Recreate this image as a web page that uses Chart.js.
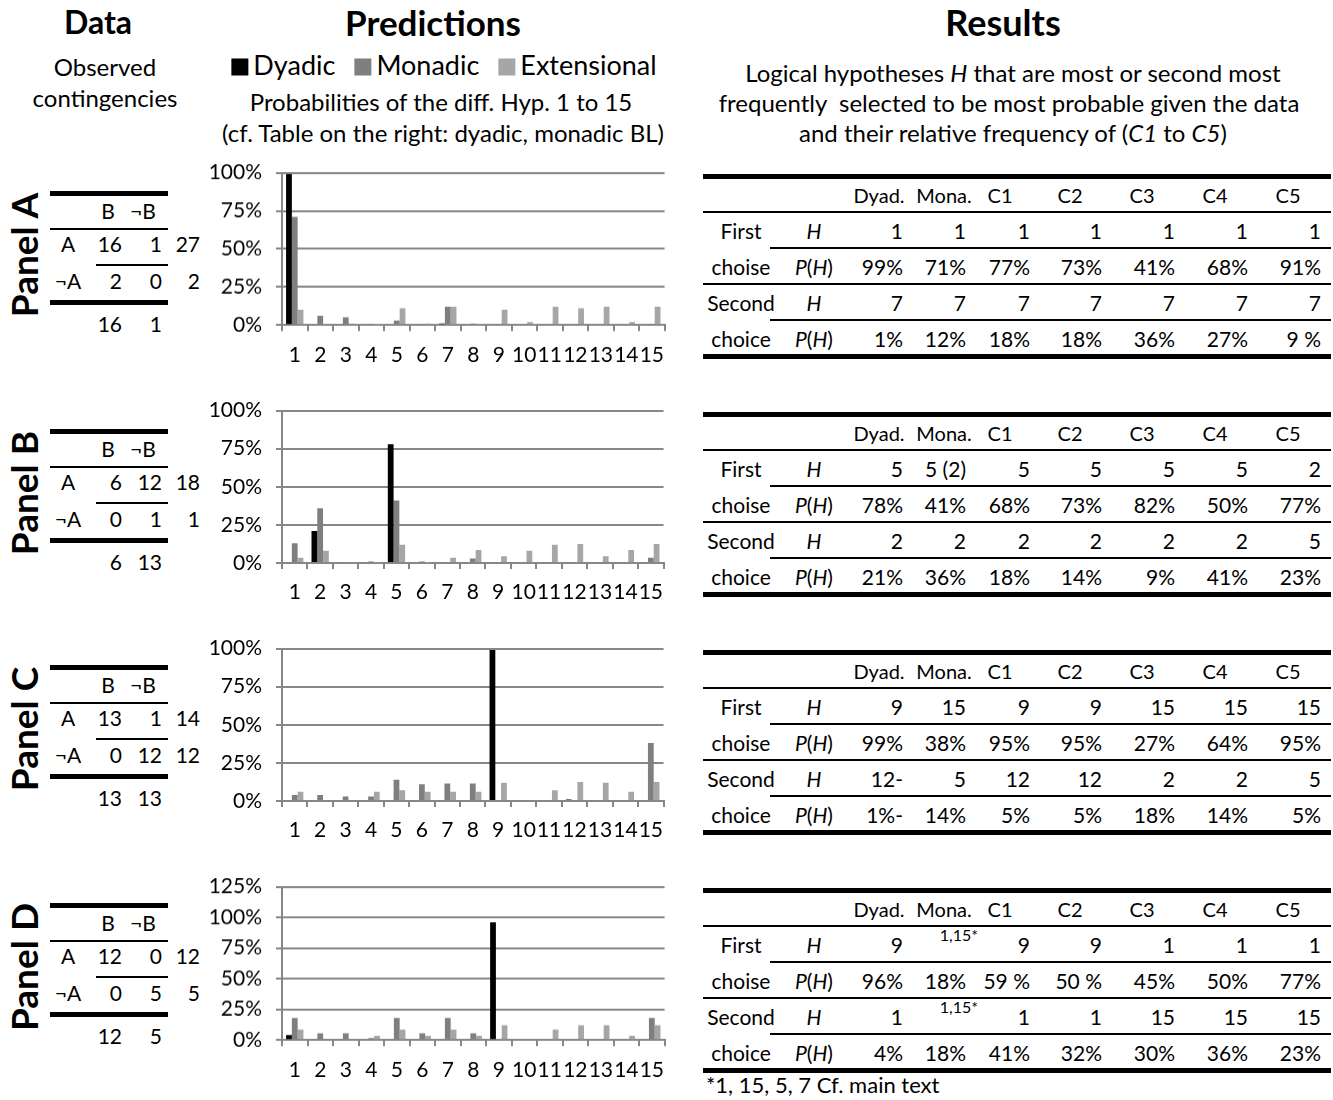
<!DOCTYPE html>
<html>
<head>
<meta charset="utf-8">
<script src="https://cdn.jsdelivr.net/npm/chart.js@4.4.1/dist/chart.umd.min.js"></script>
<style>
  html, body { margin: 0; padding: 0; background: #fff; }
  body { width: 1333px; height: 1100px; position: relative; overflow: hidden;
         font-family: Lato, "Noto Sans", sans-serif; color: #000; }
  .t { position: absolute; white-space: nowrap; line-height: 1; }
  .rule { position: absolute; background: #000; }
  canvas { position: absolute; }
  .legend { position: absolute; display: flex; align-items: center; gap: 19px;
            transform: translate(-50%, -50%); font-size: 27px; white-space: nowrap; line-height: 1; }
  .legend span.sw { display: inline-block; width: 17px; height: 17px; margin-right: 5px; vertical-align: -1px; }
</style>
</head>
<body>
<script>
// ---- Hypotheses (x categories) and series ----
const hypotheses = ['1','2','3','4','5','6','7','8','9','10','11','12','13','14','15'];
const seriesNames = ['Dyadic', 'Monadic', 'Extensional'];
const seriesColors = ['#000000', '#7f7f7f', '#a6a6a6'];
const yTickLabels = ['0%', '25%', '50%', '75%', '100%', '125%'];

// Predicted probabilities (%) of hypotheses 1..15
const dyadicA      = [99, 0, 0, 0, 0, 0, 1, 0, 0, 0, 0, 0, 0, 0, 0];
const monadicA     = [71, 6, 5, 0.3, 3, 0.3, 12, 1, 0, 0, 0, 0, 0, 0, 0.5];
const extensionalA = [10, 0.5, 1, 0.3, 11, 1, 12, 0.5, 10, 2, 12, 11, 12, 2, 12];

const dyadicB      = [0, 21, 0, 0, 78, 0, 0, 0, 0, 0, 0, 0, 0, 0, 0];
const monadicB     = [13, 36, 0, 1, 41, 1, 0.5, 3, 0, 0, 0, 0, 0, 0, 3.5];
const extensionalB = [3.5, 8, 0.5, 0.3, 12, 0.3, 3.5, 8.5, 4.5, 8, 12, 12.5, 4.5, 8.5, 12.5];

const dyadicC      = [0, 0, 0, 0, 0, 0, 0, 0, 99, 0, 0, 1, 0, 0, 0];
const monadicC     = [4, 4, 3, 3, 14, 11, 11.5, 11.5, 0, 0, 0, 0, 0, 0, 38];
const extensionalC = [6, 0, 0, 6, 7, 6, 6, 6, 12, 0, 7, 12.5, 12, 6, 12.5];

const dyadicD      = [4, 0, 0, 0, 0, 0, 0, 0, 96, 0, 0, 0, 0, 0, 0];
const monadicD     = [18, 5.5, 5.5, 1.5, 18, 5.5, 18, 5.5, 0, 0, 0, 0, 0, 0, 18];
const extensionalD = [8.5, 0, 0, 3.5, 8.5, 3.5, 8.5, 3.5, 12, 0, 8.5, 12, 12, 3.5, 12];

// Observed contingencies: [row A], [row notA], [column totals]
const contA = [['16', '1', '27'], ['2', '0', '2'], ['16', '1']];
const contB = [['6', '12', '18'], ['0', '1', '1'], ['6', '13']];
const contC = [['13', '1', '14'], ['0', '12', '12'], ['13', '13']];
const contD = [['12', '0', '12'], ['0', '5', '5'], ['12', '5']];

// Results: most / second most frequently selected hypotheses
const resultColumns = ['Dyad.', 'Mona.', 'C1', 'C2', 'C3', 'C4', 'C5'];
const firstHA  = ['1', '1', '1', '1', '1', '1', '1'];
const firstPA  = ['99%', '71%', '77%', '73%', '41%', '68%', '91%'];
const secondHA = ['7', '7', '7', '7', '7', '7', '7'];
const secondPA = ['1%', '12%', '18%', '18%', '36%', '27%', '9 %'];

const firstHB  = ['5', '5 (2)', '5', '5', '5', '5', '2'];
const firstPB  = ['78%', '41%', '68%', '73%', '82%', '50%', '77%'];
const secondHB = ['2', '2', '2', '2', '2', '2', '5'];
const secondPB = ['21%', '36%', '18%', '14%', '9%', '41%', '23%'];

const firstHC  = ['9', '15', '9', '9', '15', '15', '15'];
const firstPC  = ['99%', '38%', '95%', '95%', '27%', '64%', '95%'];
const secondHC = ['12-', '5', '12', '12', '2', '2', '5'];
const secondPC = ['1%-', '14%', '5%', '5%', '18%', '14%', '5%'];

const firstHD  = ['9', '1,15*', '9', '9', '1', '1', '1'];
const firstPD  = ['96%', '18%', '59 %', '50 %', '45%', '50%', '77%'];
const secondHD = ['1', '1,15*', '1', '1', '15', '15', '15'];
const secondPD = ['4%', '18%', '41%', '32%', '30%', '36%', '23%'];

// ---- helpers ----
function text(html, x, y, size, align, opts = {}) {
  const d = document.createElement('div');
  d.className = 't';
  d.innerHTML = html;
  d.style.left = x + 'px';
  d.style.top = y + 'px';
  d.style.fontSize = size + 'px';
  const tx = align === 'center' ? '-50%' : align === 'right' ? '-100%' : '0';
  d.style.transform = `translate(${tx},-50%)` + (opts.rotate ? ` rotate(${opts.rotate}deg)` : '');
  if (opts.bold) d.style.fontWeight = '700';
  document.body.appendChild(d);
  return d;
}
function rule(x1, x2, y, h) {
  const d = document.createElement('div');
  d.className = 'rule';
  d.style.left = x1 + 'px';
  d.style.width = (x2 - x1) + 'px';
  d.style.top = (y - h / 2) + 'px';
  d.style.height = h + 'px';
  document.body.appendChild(d);
}

// ---- column headings ----
text('Data', 98, 22, 32, 'center', { bold: true });
text('Predictions', 433, 22, 35, 'center', { bold: true });
text('Results', 1003, 22, 36, 'center', { bold: true });
text('Observed', 105, 67, 24, 'center');
text('contingencies', 105, 98, 24, 'center');

const legend = document.createElement('div');
legend.className = 'legend';
legend.style.left = '444px';
legend.style.top = '64px';
legend.innerHTML = seriesNames.map((n, i) =>
  `<div><span class="sw" style="background:${seriesColors[i]}"></span>${n}</div>`).join('');
document.body.appendChild(legend);

text('Probabilities of the diff. Hyp. 1 to 15', 441, 102, 24, 'center');
text('(cf. Table on the right: dyadic, monadic BL)', 443, 133, 24, 'center');

text('Logical hypotheses <i>H</i> that are most or second most', 1013, 73, 24, 'center');
text('frequently&nbsp; selected to be most probable given the data', 1009, 103, 24, 'center');
text('and their relative frequency of (<i>C1</i> to <i>C5</i>)', 1013, 133, 24, 'center');

// ---- contingency tables ----
function contingency(label, cont, T) {
  text(label, 23, T + 62, 37, 'center', { bold: true, rotate: -90 });
  rule(50, 168, T, 5);
  text('B', 108, T + 17, 21, 'center');
  text('\u00acB', 143, T + 17, 21, 'center');
  rule(50, 168, T + 36, 2);
  text('A', 68, T + 50, 21, 'center');
  text(cont[0][0], 122, T + 50, 21, 'right');
  text(cont[0][1], 162, T + 50, 21, 'right');
  text(cont[0][2], 200, T + 50, 21, 'right');
  rule(96, 168, T + 72, 2);
  text('\u00acA', 68, T + 87, 21, 'center');
  text(cont[1][0], 122, T + 87, 21, 'right');
  text(cont[1][1], 162, T + 87, 21, 'right');
  text(cont[1][2], 200, T + 87, 21, 'right');
  rule(50, 168, T + 109, 5);
  text(cont[2][0], 122, T + 130, 21, 'right');
  text(cont[2][1], 162, T + 130, 21, 'right');
}

// ---- results tables ----
const headerCenters = [879, 944, 1000, 1070, 1142, 1215, 1288];
const valueRights = [903, 966, 1030, 1102, 1175, 1248, 1321];
function cell(v, i, y) {
  if (v.endsWith('*')) {
    // superscripted entry pointing to the footnote
    text(v, valueRights[i] + 12, y - 9, 16, 'right');
  } else {
    text(v, valueRights[i], y, 21, 'right');
  }
}
function results(T, fH, fP, sH, sP) {
  rule(703, 1331, T, 5);
  resultColumns.forEach((c, i) => text(c, headerCenters[i], T + 19, 20, 'center'));
  rule(703, 1331, T + 36, 2);
  text('First', 741, T + 54, 21, 'center');
  text('<i>H</i>', 814, T + 54, 21, 'center');
  fH.forEach((v, i) => cell(v, i, T + 54));
  rule(770, 1331, T + 72, 2);
  text('choise', 741, T + 90, 21, 'center');
  text('<i>P</i>(<i>H</i>)', 814, T + 90, 21, 'center');
  fP.forEach((v, i) => cell(v, i, T + 90));
  rule(703, 1331, T + 108, 2);
  text('Second', 741, T + 126, 21, 'center');
  text('<i>H</i>', 814, T + 126, 21, 'center');
  sH.forEach((v, i) => cell(v, i, T + 126));
  rule(770, 1331, T + 144, 2);
  text('choice', 741, T + 162, 21, 'center');
  text('<i>P</i>(<i>H</i>)', 814, T + 162, 21, 'center');
  sP.forEach((v, i) => cell(v, i, T + 162));
  rule(703, 1331, T + 180, 5);
}

contingency('Panel A', contA, 193);
contingency('Panel B', contB, 431);
contingency('Panel C', contC, 667);
contingency('Panel D', contD, 905);

results(176, firstHA, firstPA, secondHA, secondPA);
results(414, firstHB, firstPB, secondHB, secondPB);
results(652, firstHC, firstPC, secondHC, secondPC);
results(890, firstHD, firstPD, secondHD, secondPD);
text('*1, 15, 5, 7 Cf. main text', 706, 1085, 22, 'left');

// ---- bar charts ----
// top: page y of the highest gridline, plotH: height of the plot area
const panels = [
  { top: 173, plotH: 152,   yMax: 100, data: [dyadicA, monadicA, extensionalA] },
  { top: 411, plotH: 152.5, yMax: 100, data: [dyadicB, monadicB, extensionalB] },
  { top: 649, plotH: 152.5, yMax: 100, data: [dyadicC, monadicC, extensionalC] },
  { top: 887, plotH: 153,   yMax: 125, data: [dyadicD, monadicD, extensionalD] },
];
const plotLeft = 282, plotW = 383;   // page x of the value axis and plot width
const axisGrey = '#878787';
const tickFontSize = 21;
const xAxisH = 45;

function drawCharts() {
  Chart.defaults.font.family = 'Lato';
  Chart.defaults.color = '#000';
  panels.forEach(p => {
    const cv = document.createElement('canvas');
    let w = plotW + 100;
    let h = Math.round(30 + p.plotH + xAxisH);
    cv.width = w; cv.height = h;
    cv.style.width = w + 'px';
    cv.style.height = h + 'px';
    document.body.appendChild(cv);
    const chart = new Chart(cv, {
      type: 'bar',
      data: {
        labels: hypotheses,
        datasets: seriesNames.map((n, i) => ({
          label: n,
          data: p.data[i],
          backgroundColor: seriesColors[i],
          borderWidth: 0,
          barPercentage: 1.0,
          categoryPercentage: 0.68
        }))
      },
      options: {
        responsive: false,
        animation: false,
        devicePixelRatio: 1,
        layout: { padding: { top: 0, right: 0, left: 0, bottom: 0 } },
        plugins: { legend: { display: false }, tooltip: { enabled: false } },
        scales: {
          x: {
            grid: { display: true, drawOnChartArea: false, drawTicks: true, tickLength: 6,
                    color: axisGrey, lineWidth: 2, offset: true },
            border: { display: true, color: axisGrey, width: 2 },
            ticks: { font: { size: tickFontSize }, color: '#000', padding: 11, maxRotation: 0, autoSkip: false },
            afterFit: s => { s.height = xAxisH; }
          },
          y: {
            min: 0, max: p.yMax,
            grid: { color: axisGrey, lineWidth: 2, tickLength: 6 },
            border: { display: true, color: axisGrey, width: 2 },
            ticks: { stepSize: 25, font: { size: tickFontSize }, color: '#000', padding: 14,
                     callback: v => yTickLabels[Math.round(v / 25)] },
            afterFit: s => { s.width = 82; }
          }
        }
      }
    });
    // size the canvas so the plot area gets the wanted width and height, then place it
    for (let k = 0; k < 4; k++) {
      const a = chart.chartArea;
      const dh = Math.round(p.plotH - (a.bottom - a.top));
      const dw = Math.round(plotW - (a.right - a.left));
      if (dh === 0 && dw === 0) break;
      h += dh; w += dw;
      cv.style.height = h + 'px';
      cv.style.width = w + 'px';
      chart.resize(w, h);
    }
    cv.style.top = (p.top - chart.chartArea.top) + 'px';
    cv.style.left = (plotLeft - chart.chartArea.left) + 'px';
  });
}

(document.fonts ? document.fonts.load('21px Lato') : Promise.resolve())
  .then(drawCharts, drawCharts);
</script>
</body>
</html>
